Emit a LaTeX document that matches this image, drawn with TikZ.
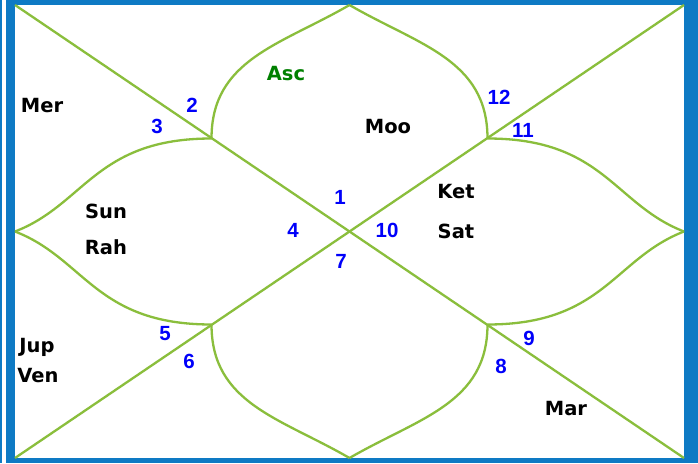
\documentclass[tikz,border=0pt]{standalone}
\usepackage{fontspec}
\setmainfont{DejaVu Sans}
\newfontfamily\numfont{Liberation Sans}

\definecolor{framecol}{RGB}{14,122,196}
\definecolor{linecol}{RGB}{138,190,60}
\definecolor{numcol}{RGB}{0,0,250}
\definecolor{asccol}{RGB}{0,128,0}

\tikzset{
  chart/.style={draw=linecol, line width=2.3pt, line join=round},
  planet/.style={anchor=base, inner sep=0pt, font=\bfseries\fontsize{19.5}{22}\selectfont},
  house/.style={anchor=base, inner sep=0pt, text=numcol, font=\numfont\bfseries\fontsize{20.5}{23}\selectfont},
}

\begin{document}
\begin{tikzpicture}[x=1pt, y=-1pt]
  \useasboundingbox (0,0) rectangle (698,463);
  % Frame
  \fill[framecol] (0,0) rectangle (698,463);
  \fill[white] (2,0) rectangle (6,463);
  \fill[white] (15,5) rectangle (684,458);

  % Corners, mid points and inner points
  \coordinate (tl) at (15,5);
  \coordinate (tr) at (684,5);
  \coordinate (bl) at (15,458);
  \coordinate (br) at (684,458);
  \coordinate (tm) at (349.5,5);
  \coordinate (bm) at (349.5,458);
  \coordinate (lm) at (15,231.5);
  \coordinate (rm) at (684,231.5);
  \coordinate (ptl) at (211.5,138.5);
  \coordinate (ptr) at (487.5,138.5);
  \coordinate (pbl) at (211.5,324.5);
  \coordinate (pbr) at (487.5,324.5);

  % Diagonals
  \draw[chart] (tl) -- (br);
  \draw[chart] (bl) -- (tr);

  % Petals
  \draw[chart] (tm) .. controls +(-69,40) and +(0,-79) .. (ptl);
  \draw[chart] (tm) .. controls +(69,40) and +(0,-79) .. (ptr);
  \draw[chart] (bm) .. controls +(-69,-40) and +(0,79) .. (pbl);
  \draw[chart] (bm) .. controls +(69,-40) and +(0,79) .. (pbr);
  \draw[chart] (lm) .. controls +(70,-27) and +(-116,0) .. (ptl);
  \draw[chart] (lm) .. controls +(70,27) and +(-116,0) .. (pbl);
  \draw[chart] (rm) .. controls +(-70,-27) and +(116,0) .. (ptr);
  \draw[chart] (rm) .. controls +(-70,27) and +(116,0) .. (pbr);

  % House numbers
  \node[house] (h1) at (340,204) {1};
  \node[house] (h2) at (192,112) {2};
  \node[house] (h3) at (157,133) {3};
  \node[house] (h4) at (293,237) {4};
  \node[house] (h5) at (165,340) {5};
  \node[house] (h6) at (189,368) {6};
  \node[house] (h7) at (341,268) {7};
  \node[house] (h8) at (501,373) {8};
  \node[house] (h9) at (529,345) {9};
  \node[house] (h10) at (387,237) {10};
  \node[house] (h11) at (523,137) {11};
  \node[house] (h12) at (499,104) {12};

  % Planets
  \node[planet, text=asccol] (asc) at (286,80) {Asc};
  \node[planet] (moo) at (388,133) {Moo};
  \node[planet] (mer) at (42,112) {Mer};
  \node[planet] (sun) at (106,218) {Sun};
  \node[planet] (rah) at (106,254) {Rah};
  \node[planet] (ket) at (456,198) {Ket};
  \node[planet] (sat) at (456,238) {Sat};
  \node[planet] (jup) at (37,352) {Jup};
  \node[planet] (ven) at (38,382) {Ven};
  \node[planet] (mar) at (566,415) {Mar};
\end{tikzpicture}
\end{document}
